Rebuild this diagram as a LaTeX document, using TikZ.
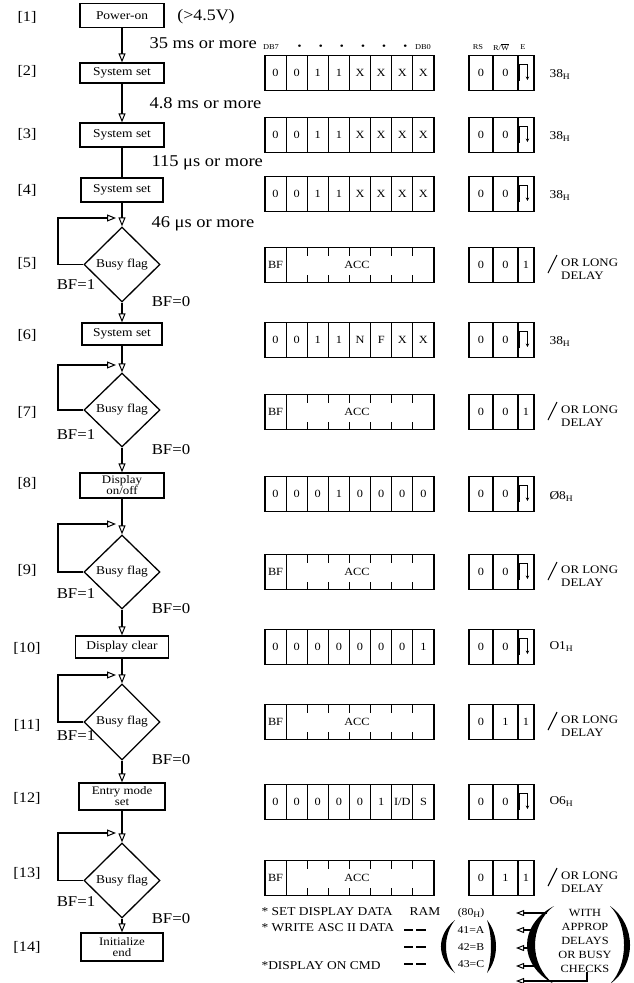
\documentclass[tikz,border=0pt]{standalone}
\usepackage{fontspec}
\setmainfont{Liberation Serif}[FakeStretch=1.12]
\usetikzlibrary{arrows.meta,shapes.geometric}
\newcommand\fsz[1]{\fontsize{#1}{#1}\selectfont}
\newcommand\Hsb{\raisebox{-2pt}{\fontsize{8.5}{8.5}\selectfont H}}
\newcommand\regrow[3]{\foreach \v [count=\k] in {#3}{\node[cell] (#1c\k) at ({265+(\k-0.5)*21.125},#2) {\v};}}
\newcommand\accrow[2]{%
 \node[cell] (#1c1) at (275.5625,#2) {BF};
 \node[draw,line width=1.1pt,minimum width=147.875pt,minimum height=35pt,inner sep=0pt] (#1acc) at (360.06,#2) {};
 \node[font=\fsz{11}] (#1acct) at (357,#2) {ACC};}
\newcommand\ctrlbox[4]{%
 \node[cell,minimum width=24pt] (#1rs) at (481,#2) {#3};
 \node[cell,minimum width=25pt] (#1rw) at (505.5,#2) {#4};}
\newcommand\ctrlp[4]{\ctrlbox{#1}{#2}{#3}{#4}%
 \node[cell,minimum width=16pt] (#1e) at (526,#2) {};
 \draw[line width=1pt,-{Stealth[length=3.5pt,width=3.5pt]}] (#1e.west |- #1e.center) ++(0,7) -- ++(2.5,0) -- ++(0,-16) -- ++(7.5,0) -- ++(0,16);}
\newcommand\ctrlt[5]{\ctrlbox{#1}{#2}{#3}{#4}%
 \node[cell,minimum width=16pt] (#1e) at (526,#2) {#5};}
\newcommand\hexl[3]{\node[anchor=west,font=\fsz{12}] (#1hex) at (546,#2+2) {#3};}
\newcommand\dlyl[2]{%
 \draw[line width=1.1pt] (548,#2+8) -- (557,#2-10);
 \node[anchor=west,font=\fsz{11.5},inner sep=0pt] (#1or) at (561,#2-2) {OR LONG};
 \node[anchor=west,font=\fsz{11.5},inner sep=0pt] (#1dl) at (561,#2+11) {DELAY};}
\begin{document}
\begin{tikzpicture}[x=1pt,y=-1pt,
  arr/.style={line width=1.3pt,-{Triangle[open,length=9pt,width=7pt,line width=1pt]}},
  sarr/.style={line width=1.2pt,-{Triangle[open,length=8pt,width=6pt,line width=1pt]}},
  fbox/.style={draw,line width=1.3pt,inner sep=0pt,align=center,font=\fsz{12}},
  fbox2/.style={fbox,font=\fontsize{11.5}{11}\selectfont},
  dia/.style={diamond,draw,line width=1.3pt,inner sep=0pt,minimum width=76pt,minimum height=75pt,font=\fsz{12}},
  lbl/.style={font=\fsz{14.5}},
  bfl/.style={font=\fsz{15}},
  dly/.style={anchor=west,font=\fsz{16.5}},
  hdr/.style={font=\fsz{7.5}},
  cell/.style={draw,line width=1.1pt,minimum width=21.125pt,minimum height=35pt,inner sep=0pt,font=\fsz{11}},
  note/.style={anchor=west,font=\fsz{12}},
  tick/.style={line width=1.2pt}
]
\useasboundingbox (0,0) rectangle (634,983);

% ---------- flow chart ----------
\node[fbox,minimum width=84pt,minimum height=24pt] (p1) at (122,15.5) {Power-on};
\node[fbox,minimum width=84pt,minimum height=20pt] (s2) at (122,73) {System set};
\node[fbox,minimum width=84pt,minimum height=24pt] (s3) at (122,135) {System set};
\node[fbox,minimum width=82pt,minimum height=24pt] (s4) at (122,190) {System set};
\node[dia] (d5) at (122,264.5) {Busy flag};
\node[fbox,minimum width=80pt,minimum height=22pt] (s6) at (122,334) {System set};
\node[dia,minimum height=74pt] (d7) at (122,410) {Busy flag};
\node[fbox2,minimum width=84pt,minimum height=25pt] (s8) at (122,485.5) {Display\\on/off};
\node[dia,minimum height=74pt] (d9) at (122,572) {Busy flag};
\node[fbox,minimum width=93pt,minimum height=22pt] (s10) at (122,647) {Display clear};
\node[dia,minimum height=76pt] (d11) at (122,722) {Busy flag};
\node[fbox2,minimum width=86pt,minimum height=27pt] (s12) at (122,796.5) {Entry mode\\set};
\node[dia] (d13) at (122,880.5) {Busy flag};
\node[fbox2,minimum width=82pt,minimum height=28pt] (s14) at (122,947) {Initialize\\end};

\draw[arr] (p1) -- (s2);
\draw[arr] (s2) -- (s3);
\draw[line width=1.3pt] (s3) -- (s4);
\draw[arr] (s4) -- (d5);
\draw[arr] (d5) -- (s6);
\draw[arr] (s6) -- (d7);
\draw[arr] (d7) -- (s8);
\draw[arr] (s8) -- (d9);
\draw[arr] (d9) -- (s10);
\draw[arr] (s10) -- (d11);
\draw[arr] (d11) -- (s12);
\draw[arr] (s12) -- (d13);
\draw[arr] (d13) -- (s14);

% loops
\foreach \d/\yy in {d5/218,d7/365,d9/524,d11/675,d13/833}{
  \coordinate (k\d) at (58,\yy);
  \coordinate (e\d) at (116,\yy);
  \draw[arr] (\d.west) -| (k\d) -- (e\d);
}

% BF labels
\foreach \d/\ya/\yb in {d5/285/302,d7/435/450,d9/594/609,d11/736/760,d13/902/919}{
  \node[bfl] (b1\d) at (76,\ya) {BF=1};
  \node[bfl] (b0\d) at (171,\yb) {BF=0};
}

% step numbers
\foreach \n/\yy in {1/17,2/71,3/134,4/190,5/263,6/335,7/412,8/483,9/570,10/648,11/725,12/798,13/873,14/947}{
  \node[lbl] (n\n) at (27,\yy) {[\n]};
}

% delay texts
\node[font=\fsz{16}] (volt) at (206,17) {(>4.5V)};
\node[dly] (t1) at (146,43) {35 ms or more};
\node[dly] (t2) at (146,103) {4.8 ms or more};
\node[dly] (t3) at (148,163) {115 μs or more};
\node[dly] (t4) at (148,224) {46 μs or more};

% ---------- header ----------
\node[hdr] (hdb7) at (271,47) {DB7};
\foreach \k in {2,...,7}{\node[font=\fsz{10}] (hd\k) at ({265+(\k-0.5)*21.125+3},47) {•};}
\node[hdr] (hdb0) at (423,47) {DB0};
\node[hdr] (hrs) at (478,47) {RS};
\node[hdr] (hrw) at (501,47) {R/$\overline{\hbox{W}}$};
\node[hdr] (he) at (523,47) {E};

% ---------- registers ----------
\regrow{r2}{73}{0,0,1,1,X,X,X,X}   \ctrlp{r2}{73}{0}{0}   \hexl{r2}{73}{38\Hsb}
\regrow{r3}{135}{0,0,1,1,X,X,X,X}  \ctrlp{r3}{135}{0}{0}  \hexl{r3}{135}{38\Hsb}
\regrow{r4}{194}{0,0,1,1,X,X,X,X}  \ctrlp{r4}{194}{0}{0}  \hexl{r4}{194}{38\Hsb}
\accrow{r5}{265}                   \ctrlt{r5}{265}{0}{0}{1} \dlyl{r5}{265}
\regrow{r6}{340}{0,0,1,1,N,F,X,X}  \ctrlp{r6}{340}{0}{0}  \hexl{r6}{340}{38\Hsb}
\accrow{r7}{412}                   \ctrlt{r7}{412}{0}{0}{1} \dlyl{r7}{412}
\regrow{r8}{494}{0,0,0,1,0,0,0,0}  \ctrlp{r8}{494}{0}{0}  \hexl{r8}{494}{Ø8\Hsb}
\accrow{r9}{572}                   \ctrlp{r9}{572}{0}{0}  \dlyl{r9}{572}
\regrow{r10}{647}{0,0,0,0,0,0,0,1} \ctrlp{r10}{647}{0}{0} \hexl{r10}{645}{O1\Hsb}
\accrow{r11}{722}                  \ctrlt{r11}{722}{0}{1}{1} \dlyl{r11}{722}
\regrow{r12}{802}{0,0,0,0,0,1,I/D,S} \ctrlp{r12}{802}{0}{0} \hexl{r12}{800}{O6\Hsb}
\accrow{r13}{878}                  \ctrlt{r13}{878}{0}{1}{1} \dlyl{r13}{878}

% tick marks of the ACC fields
\foreach \yy in {265,412,572,722,878}{
  \foreach \xx in {307.25,328.375,349.5,370.625,391.75,412.875}{
    \path[draw,tick] (\xx,\yy-17.5) -- (\xx,\yy-9.5);
    \path[draw,tick] (\xx,\yy+17.5) -- (\xx,\yy+9.5);
  }
}

% ---------- bottom notes ----------
\node[note] (nt1) at (258,912) {* SET DISPLAY DATA};
\node[note] (nt2) at (258,928) {* WRITE ASC II DATA};
\node[note] (nt3) at (258,966) {*DISPLAY ON CMD};
\node[font=\fsz{12}] (ram) at (425,912) {RAM};
\foreach \yy in {930,947,964}{\draw[line width=1.2pt] (404,\yy) -- (413,\yy) (416,\yy) -- (426,\yy);}
\node[font=\fsz{10.5}] (h80) at (471,913) {(80\Hsb)};
\node[font=\fsz{10.5}] (la) at (471,930) {41=A};
\node[font=\fsz{10.5}] (lb) at (471,947) {42=B};
\node[font=\fsz{10.5}] (lc) at (471,964) {43=C};
\fill (455,920) .. controls (436.3,935) and (436.3,958) .. (455,973) .. controls (443,958) and (443,935) .. cycle;
\fill (487,920) .. controls (499,935) and (499,958) .. (487,973) .. controls (492.3,958) and (492.3,935) .. cycle;

\fill (554,906) .. controls (518,925) and (518,965) .. (554,984) .. controls (528.7,965) and (528.7,925) .. cycle;
\fill (610,906) .. controls (636.7,925) and (636.7,965) .. (610,984) .. controls (628.7,965) and (628.7,925) .. cycle;
\node[align=center,font=\fontsize{11}{14}\selectfont,inner sep=0pt] (wt) at (585,941) {WITH\\APPROP\\DELAYS\\OR BUSY\\CHECKS};

\coordinate (ws1) at (547,913); \coordinate (wt1) at (516,913);
\coordinate (ws2) at (533,930); \coordinate (wt2) at (516,930);
\coordinate (ws3) at (531,948); \coordinate (wt3) at (516,948);
\coordinate (ws4) at (538,966); \coordinate (wt4) at (516,966);
\coordinate (ws5) at (587,972); \coordinate (wt5) at (516,981);
\draw[sarr] (ws1) -- (wt1);
\draw[sarr] (ws2) -- (wt2);
\draw[sarr] (ws3) -- (wt3);
\draw[sarr] (ws4) -- (wt4);
\draw[sarr] (ws5) |- (wt5);
\end{tikzpicture}
\end{document}
